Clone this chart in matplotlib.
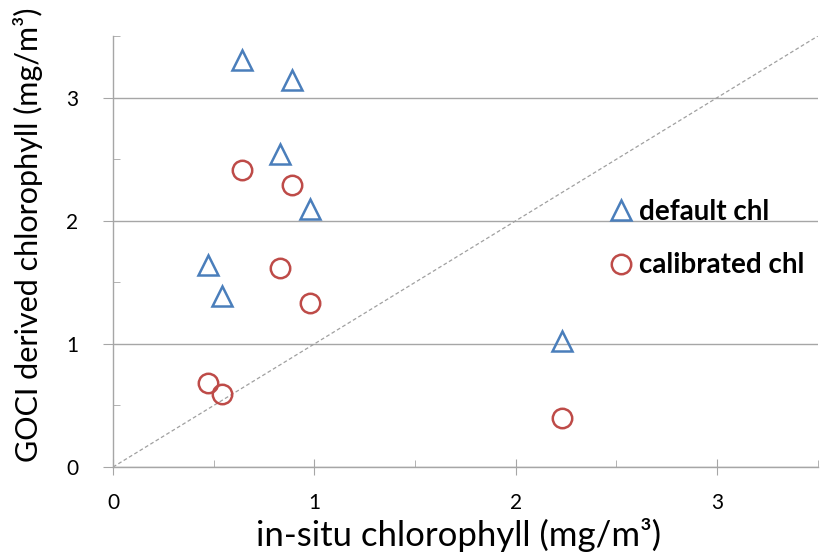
import numpy as np
import matplotlib.pyplot as plt
from matplotlib.ticker import MultipleLocator

plt.rcParams['font.family'] = ['Lato', 'DejaVu Sans']

insitu = [0.64, 0.89, 0.83, 0.98, 0.47, 0.54, 2.23]
default_chl = [3.31, 3.14, 2.54, 2.10, 1.64, 1.39, 1.02]
calibrated_chl = [2.41, 2.29, 1.62, 1.33, 0.68, 0.59, 0.40]

blue = '#4a7ebb'
red = '#be4b48'
gray = '#a6a6a6'

fig = plt.figure(figsize=(8.37, 5.56), dpi=100)
ax = fig.add_axes([0.135, 0.160, 0.842, 0.775])

# 1:1 line
ax.plot([0, 3.5], [0, 3.5], linestyle=(0, (3, 2)), color='#a0a0a0', linewidth=0.9, zorder=1)
ax.plot(insitu, default_chl, linestyle='none', marker='^', markersize=15,
        markerfacecolor='none', markeredgecolor=blue, markeredgewidth=1.8,
        label='default chl', zorder=3)
ax.plot(insitu, calibrated_chl, linestyle='none', marker='o', markersize=14,
        markerfacecolor='none', markeredgecolor=red, markeredgewidth=1.8,
        label='calibrated chl', zorder=3)

ax.set_xlim(0, 3.5)
ax.set_ylim(0, 3.5)
ax.xaxis.set_major_locator(MultipleLocator(1))
ax.xaxis.set_minor_locator(MultipleLocator(0.5))
ax.yaxis.set_major_locator(MultipleLocator(1))
ax.yaxis.set_minor_locator(MultipleLocator(0.5))
ax.grid(axis='y', which='major', color=gray, linewidth=1)
ax.set_axisbelow(True)

for s in ['top', 'right']:
    ax.spines[s].set_visible(False)
for s in ['left', 'bottom']:
    ax.spines[s].set_color(gray)
    ax.spines[s].set_linewidth(1)

ax.tick_params(axis='x', which='major', direction='inout', length=12, color=gray,
               labelsize=15, pad=13)
ax.tick_params(axis='x', which='minor', direction='in', length=5, color=gray)
ax.tick_params(axis='y', which='major', direction='out', length=7, color=gray,
               labelsize=15, pad=18)
ax.tick_params(axis='y', which='minor', direction='in', length=5, color=gray)

ax.set_xlabel('in-situ chlorophyll (mg/m³)', fontsize=25)
ax.xaxis.label.set_va('baseline')
ax.xaxis.set_label_coords(0.49, -0.183)
ax.set_ylabel('GOCI derived chlorophyll (mg/m³)', fontsize=22)
ax.yaxis.set_label_coords(-0.10, 0.54)

ax.legend(loc='center left', bbox_to_anchor=(0.665, 0.53), frameon=False,
          prop={'weight': 'bold', 'size': 20}, handletextpad=0.15,
          labelspacing=0.99, handlelength=1.0)

fig.savefig('out.png', dpi=100)
